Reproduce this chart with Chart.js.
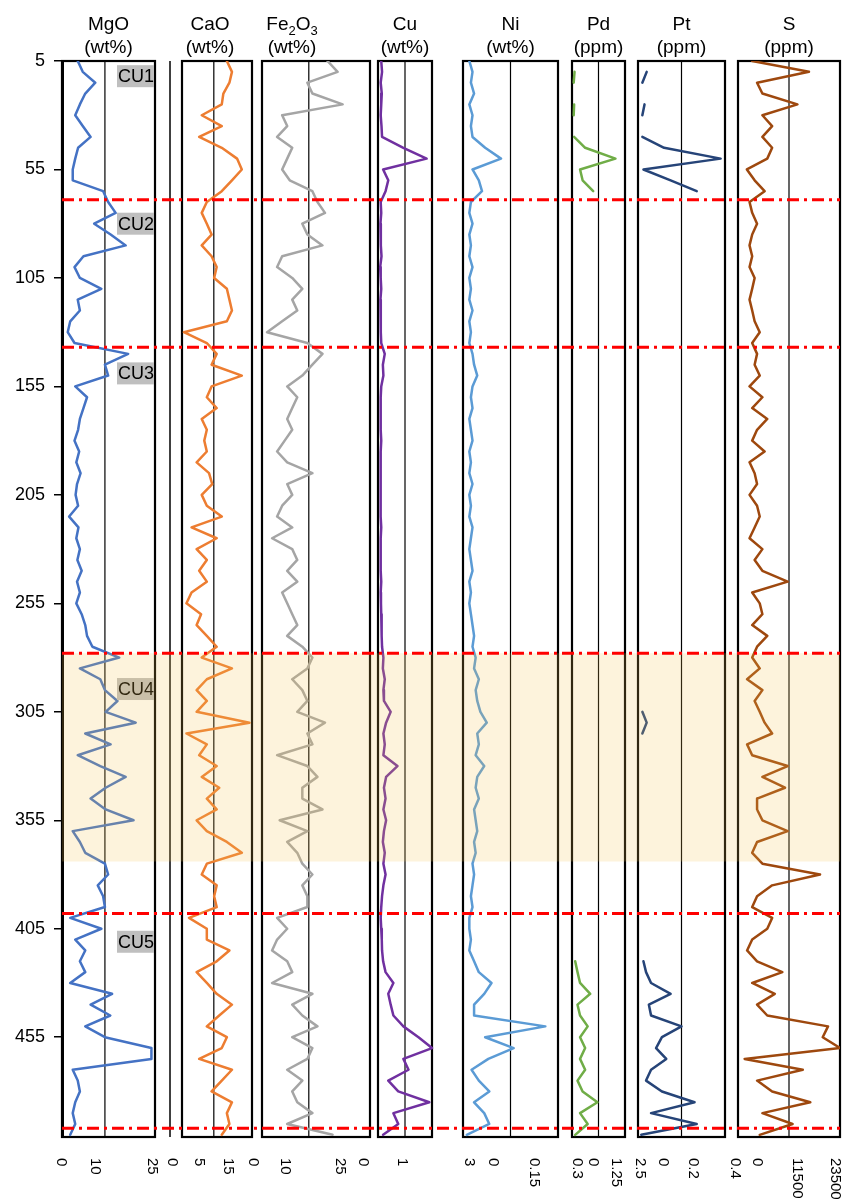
<!DOCTYPE html>
<html>
<head>
<meta charset="utf-8">
<script src="https://cdn.jsdelivr.net/npm/chart.js@4.4.1/dist/chart.umd.min.js"></script>
<style>
  html, body { margin: 0; padding: 0; background: #fff; }
  #wrap { position: relative; width: 845px; height: 1199px; }
</style>
</head>
<body>
<div id="wrap"><canvas id="log"></canvas></div>
<script>
// sample depths, shared by every column
var depths = [
  5, 10, 15, 20, 25, 30, 35, 40, 45, 50,
  55, 60, 65, 70, 75, 80, 85, 90, 95, 100,
  105, 110, 115, 120, 125, 130, 135, 140, 145, 150,
  155, 160, 165, 170, 175, 180, 185, 190, 195, 200,
  205, 210, 215, 220, 225, 230, 235, 240, 245, 250,
  255, 260, 265, 270, 275, 280, 285, 290, 295, 300,
  305, 310, 315, 320, 325, 330, 335, 340, 345, 350,
  355, 360, 365, 370, 375, 380, 385, 390, 395, 400,
  405, 410, 415, 420, 425, 430, 435, 440, 445, 450,
  455, 460, 465, 470, 475, 480, 485, 490, 495, 500
];

var mgo = [
  4.4, 5.8, 9.3, 6.5, 5.0, 3.7, 5.8, 8.0, 4.5, 3.7,
  3.0, 3.0, 11.5, 12.9, 15.0, 9.0, 13.6, 17.8, 6.0, 3.5,
  5.0, 11.0, 4.4, 5.0, 2.3, 1.6, 3.5, 18.5, 12.0, 12.9,
  3.7, 7.0, 6.0, 5.0, 4.5, 3.5, 4.8, 4.0, 5.2, 4.2,
  3.8, 4.5, 2.0, 4.6, 4.0, 5.0, 4.3, 5.5, 4.2, 5.0,
  4.0, 5.5, 6.5, 7.0, 8.5, 16.0, 5.0, 10.7, 12.0, 15.5,
  12.2, 20.6, 6.5, 13.6, 4.4, 10.7, 17.8, 12.2, 8.0, 12.2,
  20.0, 3.0, 5.0, 6.5, 12.0, 12.9, 10.0, 11.5, 12.0, 2.3,
  11.0, 3.7, 6.5, 5.0, 6.5, 2.3, 14.0, 8.0, 13.5, 6.5,
  12.0, 25.0, 25.0, 3.0, 4.4, 5.0, 3.7, 3.0, 3.7, 2.3
];

var cao = [
  14.1, 15.7, 14.9, 13.0, 12.5, 6.2, 12.5, 5.4, 12.5, 17.3,
  18.8, 15.7, 12.5, 7.8, 6.2, 7.8, 9.3, 6.2, 9.3, 10.9,
  10.1, 14.1, 14.9, 15.7, 14.1, 0.6, 7.8, 10.9, 9.3, 18.8,
  9.3, 7.8, 10.9, 6.2, 7.8, 7.0, 7.8, 4.6, 8.5, 9.5,
  6.2, 7.8, 12.5, 3.0, 10.9, 4.6, 7.8, 5.4, 7.8, 3.0,
  1.4, 6.0, 4.6, 7.8, 10.9, 6.2, 15.7, 7.8, 4.6, 7.8,
  4.6, 21.2, 1.4, 7.8, 5.4, 10.9, 6.2, 11.7, 7.8, 10.9,
  4.6, 7.8, 14.1, 18.8, 7.8, 6.2, 10.9, 10.1, 10.9, 2.2,
  7.8, 7.8, 14.9, 10.9, 4.6, 7.8, 10.9, 15.7, 11.7, 7.8,
  14.1, 12.5, 5.4, 15.7, 12.5, 9.3, 15.7, 14.1, 14.9, 12.5
];

var fe2o3 = [
  20.2, 23.0, 14.6, 16.0, 24.4, 7.6, 9.0, 6.2, 10.4, 9.0,
  7.6, 9.7, 16.0, 17.4, 19.5, 13.2, 14.6, 18.8, 7.6, 6.2,
  10.4, 13.2, 10.4, 11.8, 7.6, 3.4, 14.6, 18.8, 16.0, 13.2,
  9.0, 11.8, 10.4, 9.0, 10.4, 8.3, 6.2, 9.0, 16.0, 9.0,
  10.4, 7.6, 6.2, 10.4, 4.8, 10.4, 11.8, 9.0, 11.8, 7.6,
  9.0, 10.4, 11.8, 9.0, 13.2, 16.0, 14.6, 10.4, 13.2, 14.6,
  11.8, 19.5, 14.6, 16.0, 6.2, 14.6, 17.4, 13.2, 13.2, 18.8,
  6.9, 14.6, 9.0, 11.8, 13.2, 16.0, 13.2, 14.6, 14.6, 6.2,
  9.0, 6.2, 4.8, 9.0, 10.4, 4.8, 16.0, 10.4, 13.2, 17.4,
  10.4, 16.0, 14.6, 9.0, 13.2, 10.4, 11.8, 16.0, 9.0, 21.6
];

var cu = [
  0.12, 0.15, 0.1, 0.14, 0.12, 0.1, 0.13, 0.15, 0.94, 1.8,
  0.19, 0.38, 0.28, 0.1, 0.12, 0.09, 0.11, 0.1, 0.13, 0.08,
  0.1, 0.12, 0.09, 0.1, 0.11, 0.1, 0.12, 0.25, 0.18, 0.2,
  0.12, 0.1, 0.11, 0.09, 0.1, 0.12, 0.1, 0.09, 0.1, 0.11,
  0.1, 0.09, 0.1, 0.12, 0.1, 0.11, 0.09, 0.1, 0.12, 0.1,
  0.11, 0.12, 0.14, 0.13, 0.15, 0.2, 0.18, 0.25, 0.2, 0.22,
  0.47, 0.3, 0.2, 0.25, 0.2, 0.72, 0.3, 0.22, 0.28, 0.2,
  0.3, 0.22, 0.18, 0.25, 0.2, 0.28, 0.2, 0.15, 0.12, 0.1,
  0.12, 0.14, 0.15, 0.19, 0.28, 0.57, 0.38, 0.47, 0.57, 0.94,
  1.5, 2.0, 0.94, 1.13, 0.38, 0.75, 1.9, 0.57, 0.75, 0.19
];

var ni = [
  0.02, 0.03, 0.025, 0.035, 0.02, 0.03, 0.025, 0.03, 0.07, 0.12,
  0.03, 0.05, 0.06, 0.025, 0.02, 0.03, 0.02, 0.025, 0.02, 0.03,
  0.02, 0.025, 0.02, 0.03, 0.02, 0.025, 0.02, 0.03, 0.035, 0.045,
  0.03, 0.025, 0.03, 0.02, 0.025, 0.03, 0.02, 0.025, 0.02, 0.03,
  0.02, 0.025, 0.02, 0.03, 0.025, 0.02, 0.025, 0.03, 0.02, 0.025,
  0.02, 0.025, 0.03, 0.035, 0.03, 0.04, 0.035, 0.05, 0.04, 0.045,
  0.055, 0.075, 0.045, 0.05, 0.04, 0.067, 0.045, 0.04, 0.05, 0.035,
  0.04, 0.045, 0.035, 0.04, 0.03, 0.035, 0.03, 0.025, 0.03, 0.02,
  0.02, 0.025, 0.02, 0.035, 0.05, 0.09, 0.067, 0.035, 0.035, 0.26,
  0.07, 0.16, 0.08, 0.027, 0.05, 0.083, 0.035, 0.067, 0.083, 0.012
];

// Pd and Pt were only assayed in the mineralised intervals
var pd = [
  null, 0.12, 0.08, null, 0.1, 0.08, null, 0.1, 0.62, 2.05,
  0.38, 0.5, 1.0, null, null, null, null, null, null, null,
  null, null, null, null, null, null, null, null, null, null,
  null, null, null, null, null, null, null, null, null, null,
  null, null, null, null, null, null, null, null, null, null,
  null, null, null, null, null, null, null, null, null, null,
  null, null, null, null, null, null, null, null, null, null,
  null, null, null, null, null, null, null, null, null, null,
  null, null, null, 0.15, 0.26, 0.38, 0.86, 0.26, 0.38, 0.74,
  0.38, 0.62, 0.38, 0.62, 0.26, 0.5, 1.2, 0.38, 0.74, 0.15
];

var pt = [
  null, 0.04, 0.02, null, 0.03, 0.02, null, 0.02, 0.12, 0.38,
  0.025, 0.15, 0.27, null, null, null, null, null, null, null,
  null, null, null, null, null, null, null, null, null, null,
  null, null, null, null, null, null, null, null, null, null,
  null, null, null, null, null, null, null, null, null, null,
  null, null, null, null, null, null, null, null, null, null,
  0.02, 0.04, 0.02, null, null, null, null, null, null, null,
  null, null, null, null, null, null, null, null, null, null,
  null, null, null, 0.025, 0.037, 0.06, 0.15, 0.05, 0.06, 0.2,
  0.11, 0.083, 0.13, 0.06, 0.037, 0.11, 0.26, 0.06, 0.27, 0.015
];

var sulfur = [
  3200, 16000, 4300, 5500, 13400, 5500, 7700, 5500, 7700, 6600,
  2000, 3750, 6000, 2600, 3200, 4300, 3200, 2600, 3200, 2600,
  3750, 3200, 2600, 3200, 3750, 4900, 3200, 4300, 3750, 4900,
  2600, 5500, 3200, 6600, 4300, 3200, 6000, 2600, 3750, 4300,
  2600, 4300, 4900, 3750, 2600, 5500, 3750, 5500, 11200, 3200,
  4900, 5500, 3200, 6600, 4300, 3200, 4900, 2050, 5500, 3750,
  4900, 6000, 7700, 2050, 3200, 11200, 5500, 10600, 4300, 4300,
  5500, 11200, 4300, 3200, 5500, 18500, 7700, 4300, 3200, 7700,
  6600, 3200, 2050, 4300, 10000, 3200, 8300, 4300, 6600, 20300,
  19100, 23000, 1500, 14600, 4300, 7700, 16300, 5500, 12300, 4900
];

// depth axis labels and the unit breaks
var depthTicks = [5, 55, 105, 155, 205, 255, 305, 355, 405, 455];
var unitBreaks = [69, 137, 278, 398, 497];
var unitNames = ['CU1', 'CU2', 'CU3', 'CU4', 'CU5'];
var unitLabelDepths = [12, 80, 149, 294.5, 411];
var cu4Band = [278, 374];

// bottom labels of each column
var mgoTicks = [0, 10, 25];
var caoTicks = [0, 5, 15];
var fe2o3Ticks = [0, 10, 25];
var cuTicks = [0, 1, 3];
var niTicks = [0, 0.15, 0.3];
var pdTicks = [0, 1.25, 2.5];
var ptTicks = [0, 0.2, 0.4];
var sTicks = [0, 11500, 23500];

var columns = [
  {name: 'MgO', unit: '(wt%)', values: mgo, ticks: mgoTicks, color: '#4472c4'},
  {name: 'CaO', unit: '(wt%)', values: cao, ticks: caoTicks, color: '#ed7d31'},
  {name: 'Fe2O3', unit: '(wt%)', values: fe2o3, ticks: fe2o3Ticks, color: '#a5a5a5'},
  {name: 'Cu', unit: '(wt%)', values: cu, ticks: cuTicks, color: '#7030a0'},
  {name: 'Ni', unit: '(wt%)', values: ni, ticks: niTicks, color: '#5b9bd5'},
  {name: 'Pd', unit: '(ppm)', values: pd, ticks: pdTicks, color: '#70ad47'},
  {name: 'Pt', unit: '(ppm)', values: pt, ticks: ptTicks, color: '#264478'},
  {name: 'S', unit: '(ppm)', values: sulfur, ticks: sTicks, color: '#9e480e'}
];

// where each column box sits on the page, the value at its edges,
// and how far each bottom label is nudged off its tick
var frames = [
  {left: 62, right: 155, lo: 0, hi: 26, mid: 12, tickShift: [-1, -3, 1], titleShift: 0},
  {left: 182, right: 252, lo: 0, hi: 22, mid: 10, tickShift: [-10, 1, -2], titleShift: -7},
  {left: 262, right: 370, lo: 2, hi: 32, mid: 15, tickShift: [-2, -6, -5], titleShift: -24},
  {left: 378, right: 432, lo: 0, hi: 2, mid: 1, tickShift: [-15, -3, 10], titleShift: 0},
  {left: 463, right: 558, lo: 0, hi: 0.3, mid: 0.15, tickShift: [30, 24, 19], titleShift: 0},
  {left: 572, right: 625, lo: 0, hi: 2.5, mid: 1.25, tickShift: [21, 18, 15], titleShift: 0},
  {left: 638, right: 725, lo: 0, hi: 0.4, mid: 0.2, tickShift: [25, 12, 10], titleShift: 0},
  {left: 738, right: 840, lo: 0, hi: 23000, mid: 11500, tickShift: [19, 8, -7], titleShift: 0}
];

var AREA_LEFT = 62, AREA_RIGHT = 840;
var STRAY_AXIS_X = 170;
var FONT = "'Liberation Sans', Arial, Helvetica, sans-serif";

function xScale(f) {
  var perUnit = (f.right - f.left) / (f.hi - f.lo);
  return {
    type: 'linear',
    display: false,
    min: f.lo - (f.left - AREA_LEFT) / perUnit,
    max: f.hi + (AREA_RIGHT - f.right) / perUnit
  };
}

var scales = {
  y: {
    type: 'linear',
    reverse: true,
    min: 5,
    max: 501,
    afterBuildTicks: function(scale) {
      scale.ticks = depthTicks.map(v => ({value: v}));
    },
    afterFit: function(scale) { scale.width = AREA_LEFT; },
    border: {display: true, color: '#000', width: 3},
    grid: {drawOnChartArea: false, drawTicks: true, tickLength: 8, color: '#000', lineWidth: 1.5},
    ticks: {color: '#000', padding: 9, autoSkip: false, font: {family: FONT, size: 18}}
  }
};
frames.forEach((f, i) => { scales['x' + i] = xScale(f); });

function drawTitle(ctx, text, cx, y) {
  var parts = text.split(/(\d)/).filter(Boolean);
  var w = 0;
  parts.forEach(p => {
    ctx.font = /\d/.test(p) ? '13px ' + FONT : '19px ' + FONT;
    w += ctx.measureText(p).width;
  });
  var x = cx - w / 2;
  parts.forEach(p => {
    var sub = /\d/.test(p);
    ctx.font = sub ? '13px ' + FONT : '19px ' + FONT;
    ctx.fillText(p, x, sub ? y + 5 : y);
    x += ctx.measureText(p).width;
  });
}

var stripLog = {
  id: 'stripLog',
  beforeDatasetsDraw(chart) {
    var ctx = chart.ctx, area = chart.chartArea;
    ctx.save();
    ctx.strokeStyle = '#000';
    frames.forEach((f, i) => {
      var s = chart.scales['x' + i];
      var l = s.getPixelForValue(f.lo), r = s.getPixelForValue(f.hi);
      ctx.lineWidth = 1.2;
      ctx.beginPath();
      ctx.moveTo(s.getPixelForValue(f.mid), area.top);
      ctx.lineTo(s.getPixelForValue(f.mid), area.bottom);
      ctx.stroke();
      ctx.lineWidth = 2.2;
      ctx.strokeRect(l, area.top, r - l, area.bottom - area.top);
    });
    ctx.lineWidth = 1.5;
    ctx.beginPath();
    ctx.moveTo(STRAY_AXIS_X, area.top);
    ctx.lineTo(STRAY_AXIS_X, area.bottom);
    ctx.stroke();
    ctx.restore();
  },
  afterDatasetsDraw(chart) {
    var ctx = chart.ctx, area = chart.chartArea, y = chart.scales.y;
    var mgoRight = chart.scales.x0.getPixelForValue(frames[0].hi);
    ctx.save();
    // unit labels
    ctx.font = '18px ' + FONT;
    ctx.textBaseline = 'middle';
    ctx.textAlign = 'left';
    unitNames.forEach((name, i) => {
      var cy = y.getPixelForValue(unitLabelDepths[i]);
      ctx.fillStyle = '#bfbfbf';
      ctx.fillRect(mgoRight - 38, cy - 11, 37, 22);
      ctx.fillStyle = '#000';
      ctx.fillText(name, mgoRight - 37, cy + 1);
    });
    // CU4 shading lies over the logs
    var top = y.getPixelForValue(cu4Band[0]), bottom = y.getPixelForValue(cu4Band[1]);
    ctx.fillStyle = 'rgba(245, 195, 80, 0.2)';
    ctx.fillRect(area.left, top, area.right - area.left, bottom - top);
    // unit boundaries
    ctx.strokeStyle = '#ff0000';
    ctx.lineWidth = 3;
    ctx.setLineDash([12, 5, 3, 5]);
    unitBreaks.forEach(d => {
      var py = y.getPixelForValue(d);
      ctx.beginPath();
      ctx.moveTo(area.left, py);
      ctx.lineTo(area.right, py);
      ctx.stroke();
    });
    ctx.restore();
  },
  afterDraw(chart) {
    var ctx = chart.ctx, area = chart.chartArea;
    ctx.save();
    ctx.fillStyle = '#000';
    ctx.textBaseline = 'alphabetic';
    ctx.textAlign = 'left';
    columns.forEach((c, i) => {
      var s = chart.scales['x' + i], f = frames[i];
      var cx = (s.getPixelForValue(f.lo) + s.getPixelForValue(f.hi)) / 2 + f.titleShift;
      drawTitle(ctx, c.name, cx, 30);
      ctx.font = '19px ' + FONT;
      ctx.fillText(c.unit, cx - ctx.measureText(c.unit).width / 2, 53);
    });
    // value labels below each column, read top to bottom
    ctx.font = '15px ' + FONT;
    ctx.textBaseline = 'middle';
    columns.forEach((c, i) => {
      var s = chart.scales['x' + i];
      c.ticks.forEach((v, k) => {
        var x = s.getPixelForValue(v) + frames[i].tickShift[k];
        ctx.save();
        ctx.translate(x, area.bottom + 21);
        ctx.rotate(Math.PI / 2);
        ctx.fillText(String(v), 0, 0);
        ctx.restore();
      });
    });
    ctx.restore();
  }
};

new Chart(document.getElementById('log'), {
  type: 'line',
  data: {
    datasets: columns.map((c, i) => ({
      label: c.name,
      data: depths.map((d, j) => ({x: c.values[j], y: d})),
      xAxisID: 'x' + i,
      yAxisID: 'y',
      borderColor: c.color,
      borderWidth: 2.5,
      borderJoinStyle: 'round',
      borderCapStyle: 'round',
      pointRadius: 0,
      tension: 0,
      spanGaps: false
    }))
  },
  options: {
    indexAxis: 'y',
    responsive: true,
    maintainAspectRatio: false,
    animation: false,
    devicePixelRatio: 1,
    layout: {padding: {top: 61, bottom: 62, left: 0, right: 5}},
    scales: scales,
    plugins: {legend: {display: false}, tooltip: {enabled: false}}
  },
  plugins: [stripLog]
});
</script>
</body>
</html>
